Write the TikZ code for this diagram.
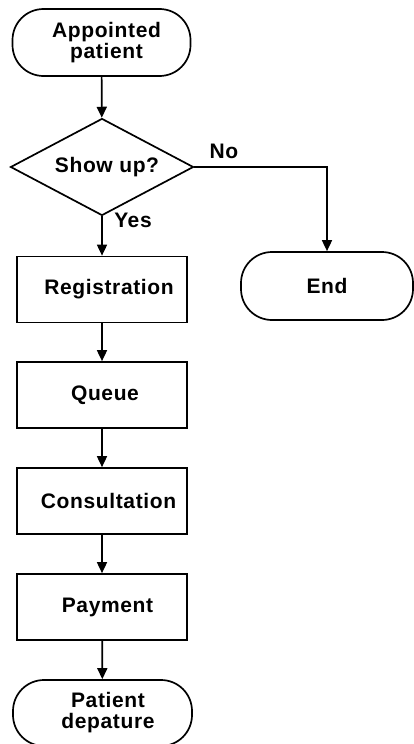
\documentclass[tikz,border=0pt]{standalone}
\usepackage{fontspec}
\setmainfont{Liberation Sans}[LetterSpace=3]
\usetikzlibrary{shapes.geometric,arrows.meta}
\begin{document}
\begin{tikzpicture}[x=1pt,y=1pt,
  font=\fontsize{21}{21}\selectfont\bfseries,
  every node/.style={line width=1.7pt},
  term/.style={draw,rounded corners=31pt,minimum width=178pt,minimum height=67pt,align=center,inner sep=0pt},
  proc/.style={draw,rectangle,minimum width=170pt,minimum height=66pt,inner sep=0pt},
  decide/.style={draw,diamond,aspect=2,minimum width=183pt,minimum height=97pt,inner sep=0pt},
  conn/.style={line width=1.7pt,-{Triangle[length=11pt,width=10pt]}},
  lbl/.style={inner sep=0pt}
]
\useasboundingbox (0,0) rectangle (414,-744);
\node[term] (start) at (101.5,-42.5) {\hspace*{10pt}Appointed\\\hspace*{10pt}patient};
\node[decide] (dec) at (102,-167) {\hspace*{10pt}Show up?};
\node[proc] (reg) at (102,-289.5) {\hspace*{14pt}Registration};
\node[proc] (queue) at (102,-395) {\hspace*{6pt}Queue};
\node[proc] (cons) at (102,-501) {\hspace*{13pt}Consultation};
\node[proc] (pay) at (102,-607) {\hspace*{11pt}Payment};
\node[term,minimum width=179pt,minimum height=66pt] (dep) at (102.5,-713) {\hspace*{11pt}Patient\\\hspace*{11pt}depature};
\node[term,minimum width=172pt,minimum height=68pt] (end) at (327,-286) {End};
\draw[conn] (start) -- (dec);
\draw[conn] (dec.south) -- (reg.north);
\draw[conn] (reg) -- (queue);
\draw[conn] (queue) -- (cons);
\draw[conn] (cons) -- (pay);
\draw[conn] (pay) -- (dep);
\draw[conn] (dec.east) -| (end.north);
\node[lbl] (yes) at (133,-220) {Yes};
\node[lbl] (no) at (224,-151) {No};
\end{tikzpicture}
\end{document}
